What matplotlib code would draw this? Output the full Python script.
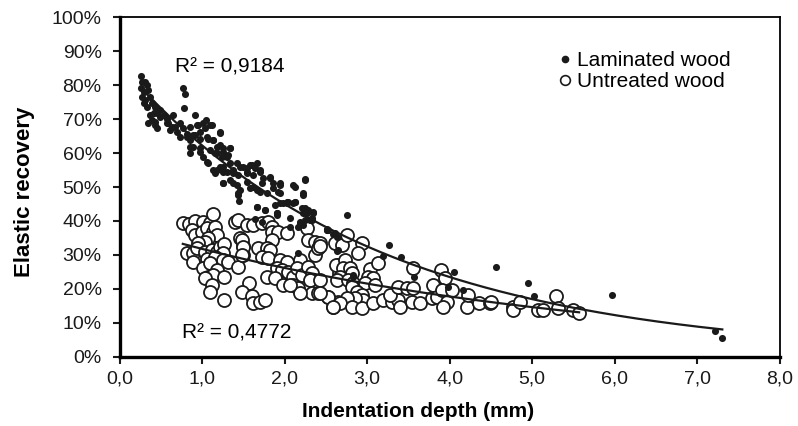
import numpy as np
import matplotlib
matplotlib.use("Agg")
import matplotlib.pyplot as plt
from matplotlib.ticker import FuncFormatter, MultipleLocator
from matplotlib.lines import Line2D

# laminated wood: indentation depth (mm), elastic recovery (%)
lam_x = [0.256, 0.268, 0.309, 0.329, 0.260, 0.289, 0.349, 0.268, 0.309, 0.369, 0.289, 0.329, 0.390, 0.430,
         0.490, 0.450, 0.369, 0.390, 0.430, 0.490, 0.531, 0.579, 0.652, 0.591, 0.612, 0.672, 0.733, 0.692,
         0.733, 0.773, 0.814, 0.854, 0.914, 0.955, 0.975, 1.048, 1.036, 1.116, 1.076, 1.136, 1.177, 1.217,
         1.258, 1.338, 1.298, 1.238, 1.157, 0.914, 0.894, 0.854, 0.975, 1.015, 1.076, 1.177, 1.258, 1.338,
         1.379, 1.459, 1.540, 1.600, 1.641, 1.701, 1.823, 2.247, 0.773, 0.793, 0.781,
         0.410, 0.430, 0.450, 0.349, 0.571, 0.632,
         0.854, 0.935, 1.015, 1.096, 1.217, 0.814, 0.894, 0.975, 1.056, 1.136, 1.217, 1.338, 0.854, 0.975,
         1.096, 1.177, 1.258, 1.318, 1.056, 1.136, 1.217, 1.298, 1.419, 1.500, 1.580, 1.661, 1.540, 1.439,
         1.338, 1.258, 1.379, 1.459, 1.439, 1.451, 1.580, 1.661, 1.742, 1.823, 1.863, 1.944, 1.924, 2.126,
         2.247, 2.226, 2.025, 2.126, 1.661, 1.762, 1.904, 2.247, 2.226, 2.348, 2.065, 2.247, 2.328, 2.166,
         2.509,
         1.157, 1.258, 1.379, 1.540, 1.621, 1.701, 1.258, 1.419, 1.540, 1.621, 1.722, 1.944, 2.105, 1.439,
         1.701, 1.782, 1.863, 1.944, 2.045, 2.227, 1.661, 1.762, 1.904, 1.944, 2.025, 2.126, 2.207, 2.267,
         2.348, 2.307, 2.186, 2.065, 2.509, 2.610, 2.650, 2.166, 1.722, 1.641,
         1.883, 1.984, 2.105, 2.287, 2.327, 2.186, 2.226, 1.904, 2.529, 2.630, 2.832,
         2.759, 2.517, 2.590, 2.638, 3.268, 3.196, 3.409, 3.567, 4.056, 4.560, 4.952, 5.024, 2.832, 3.983,
         4.165, 5.973, 7.212, 7.305]
lam_y = [82.7, 81.1, 81.1, 80.1, 79.2, 78.1, 78.6, 76.6, 75.7, 76.6, 74.7, 73.7, 74.7, 73.7,
         72.7, 71.7, 71.2, 69.8, 68.3, 70.7, 71.2, 70.2, 71.2, 68.8, 66.8, 67.8, 68.8, 66.3,
         64.8, 67.3, 65.7, 63.8, 65.3, 68.3, 66.3, 69.8, 67.3, 68.3, 64.3, 63.8, 61.9, 65.8,
         61.4, 61.4, 58.9, 58.9, 59.9, 71.2, 61.9, 59.9, 60.4, 58.9, 57.0, 55.0, 56.0, 57.0,
         55.0, 56.0, 55.5, 56.5, 55.5, 55.0, 53.1, 52.3, 79.1, 77.3, 73.2,
         71.7, 69.3, 67.3, 68.8, 68.8, 67.8,
         67.8, 68.3, 68.8, 68.3, 66.1, 64.8, 65.3, 64.3, 64.8, 63.9, 62.4, 61.4, 61.9, 61.4,
         60.9, 59.9, 60.4, 59.4, 57.5, 55.0, 56.0, 54.5, 57.0, 56.0, 56.5, 57.0, 54.0, 53.5,
         52.1, 51.1, 51.1, 49.1, 47.6, 46.0, 49.6, 49.1, 52.6, 52.6, 51.1, 51.1, 48.6, 50.1,
         52.1, 48.1, 45.7, 45.7, 44.0, 43.2, 42.2, 43.7, 42.2, 42.7, 40.8, 40.3, 40.3, 38.3,
         37.3,
         54.2, 54.5, 54.0, 54.5, 53.5, 54.5, 51.1, 50.6, 51.6, 50.1, 51.1, 50.6, 50.6, 48.1,
         48.6, 48.1, 49.6, 48.1, 45.6, 47.6, 44.2, 43.2, 42.2, 45.2, 45.2, 45.6, 43.7, 42.2,
         42.2, 40.3, 39.3, 38.3, 37.3, 36.3, 31.4, 30.4, 39.8, 40.5,
         44.7, 45.2, 45.4, 43.2, 40.8, 39.8, 38.8, 41.7, 37.3, 35.3, 23.5,
         41.7, 37.5, 36.1, 31.1, 32.9, 29.6, 29.4, 23.5, 25.0, 26.3, 21.6, 17.8, 24.0, 20.6,
         19.6, 18.1, 7.5, 5.5]

# untreated wood
unt_x = [0.765, 0.846, 0.914, 1.015, 1.096, 1.136, 0.874, 0.914, 0.995, 1.056, 1.136, 1.157, 1.177, 1.076,
         1.036, 0.955, 0.814, 0.894, 0.935, 1.036, 1.116, 1.177, 1.217, 1.270, 1.258, 1.056, 1.157, 1.258,
         1.318, 0.894, 1.015, 1.096, 1.177, 1.076, 1.136, 1.036, 1.265, 1.116, 1.096, 1.265, 1.439, 1.459,
         1.491, 1.500, 1.573, 1.479, 1.601, 1.621, 1.702, 1.762, 1.399, 1.439, 1.540, 1.621, 1.722, 1.803,
         1.843, 1.843, 1.924, 2.025, 1.843, 1.681, 1.782, 1.823, 1.722, 1.803, 1.944, 2.025, 1.904, 1.965,
         2.045, 1.782, 1.883, 2.105, 1.984, 2.105, 2.166, 2.186, 2.267, 2.287, 2.368, 2.368, 2.408, 2.146,
         2.207, 2.287, 2.328, 2.307, 2.328, 2.408, 2.529, 2.590, 2.650, 2.428, 2.650, 2.622, 2.663, 2.186,
         2.065, 1.480, 1.500, 1.480,
         2.428, 2.428, 2.610, 2.691, 2.751, 2.933, 2.893, 2.622, 2.731, 2.711, 2.792, 2.812, 2.671, 2.630,
         2.772, 2.832, 2.812, 3.034, 3.135, 3.014, 3.075, 2.974, 3.095, 2.873, 2.933, 2.954, 2.853, 2.751,
         2.529, 2.671, 2.590, 2.812, 2.933, 3.075, 3.196, 3.296, 3.377, 3.397, 3.276, 3.377, 3.478, 3.559,
         3.539, 3.640, 3.559, 3.801, 3.781, 3.842, 3.890, 3.942, 3.902, 3.963, 3.922, 4.023, 4.205, 4.225,
         4.357, 4.487, 4.507, 4.762, 4.770, 4.851, 5.073, 5.133, 5.283, 5.316, 5.497, 5.569, 2.428]
unt_y = [39.5, 39.1, 40.1, 39.8, 39.3, 41.9, 37.3, 35.8, 36.8, 37.8, 36.8, 38.3, 35.8, 34.9,
         33.9, 33.4, 30.4, 30.6, 31.9, 30.9, 31.4, 30.9, 32.4, 33.2, 30.4, 28.9, 29.4, 28.5,
         28.0, 28.0, 26.0, 27.5, 25.5, 23.5, 24.0, 23.1, 23.5, 21.1, 19.1, 16.7, 26.5, 34.9,
         32.6, 29.9, 21.6, 19.1, 17.9, 15.9, 16.2, 16.7, 39.8, 40.3, 38.8, 38.8, 39.3, 39.8,
         38.3, 36.8, 36.8, 36.3, 34.4, 31.9, 31.9, 31.4, 29.4, 29.0, 28.5, 28.0, 26.0, 25.5,
         25.0, 23.5, 23.1, 23.5, 21.1, 21.1, 20.1, 28.5, 37.8, 34.4, 33.9, 29.9, 31.9, 26.0,
         24.0, 26.5, 24.5, 22.6, 18.6, 18.6, 17.6, 14.7, 16.2, 22.6, 27.0, 33.4, 24.5, 18.6,
         21.1, 34.4, 32.4, 29.9,
         33.6, 32.6, 33.4, 32.9, 35.8, 33.6, 30.4, 27.0, 28.5, 26.0, 26.0, 24.5, 23.5, 22.6,
         22.6, 21.6, 20.6, 25.7, 27.5, 23.5, 23.1, 21.6, 21.1, 19.1, 18.1, 16.7, 17.2, 17.2,
         17.7, 15.7, 14.7, 14.7, 14.2, 15.7, 16.7, 16.2, 16.7, 14.7, 18.1, 20.6, 20.1, 20.1,
         16.2, 15.7, 26.0, 21.1, 17.2, 17.7, 25.5, 23.1, 19.6, 16.2, 14.7, 19.6, 14.7, 18.1,
         15.7, 15.7, 16.2, 14.7, 13.7, 16.2, 13.7, 13.7, 17.8, 14.2, 13.7, 12.9, 18.6]

x_ticks = [0, 1, 2, 3, 4, 5, 6, 7, 8]
ink = "#1a1a1a"
sans = ["Liberation Sans", "DejaVu Sans"]


def exp_trend(x, y):
    # exponential trendline like Excel: ln(y) = ln(a) + b*x
    x = np.array(x)
    b, ln_a = np.polyfit(x, np.log(np.array(y)), 1)
    xs = np.linspace(x.min(), x.max(), 200)
    return xs, np.exp(ln_a) * np.exp(b * xs)


fig = plt.figure(figsize=(7.98, 4.26), dpi=100)
ax = fig.add_axes([0.150, 0.163, 0.827, 0.796])

ax.scatter(unt_x, unt_y, s=88, facecolors="white", edgecolors=ink, linewidths=1.3, zorder=2)
ax.scatter(lam_x, lam_y, s=26, color=ink, linewidths=0, zorder=3)

tx, ty = exp_trend(lam_x, lam_y)
ax.plot(tx, ty, color=ink, lw=1.6, zorder=4)
tx, ty = exp_trend(unt_x, unt_y)
ax.plot(tx, ty, color=ink, lw=1.6, zorder=4)

ax.set_xlim(0, 8)
ax.set_ylim(0, 100)
ax.set_xticks(x_ticks)
ax.xaxis.set_major_formatter(FuncFormatter(lambda v, p: f"{v:.1f}".replace(".", ",")))
ax.yaxis.set_major_locator(MultipleLocator(10))
ax.yaxis.set_major_formatter(FuncFormatter(lambda v, p: f"{int(round(v))}%"))

for lab in ax.get_xticklabels() + ax.get_yticklabels():
    lab.set_family(sans)
    lab.set_fontsize(14)

ax.tick_params(axis="y", direction="out", length=5, width=1.5, colors=ink, pad=8)
ax.tick_params(axis="x", direction="out", length=5, width=1.5, colors=ink, pad=5)
for side in ["left", "bottom"]:
    ax.spines[side].set_linewidth(2.4)
for side in ["top", "right"]:
    ax.spines[side].set_linewidth(1.3)

ax.set_xlabel("Indentation depth (mm)", family=sans, fontsize=15, fontweight="bold")
ax.xaxis.set_label_coords(0.452, -0.135)
ax.set_ylabel("Elastic recovery", family=sans, fontsize=16, fontweight="bold")
ax.yaxis.set_label_coords(-0.128, 0.485)

ax.text(0.67, 85.4, "R² = 0,9184", family=sans, fontsize=15, va="center")
ax.text(0.75, 6.9, "R² = 0,4772", family=sans, fontsize=15, va="center")

handles = [Line2D([], [], ls="none", marker="o", ms=4.5, color=ink),
           Line2D([], [], ls="none", marker="o", ms=7, mfc="white", mec=ink, mew=1.2)]
ax.legend(handles, ["Laminated wood", "Untreated wood"], loc="upper left",
          bbox_to_anchor=(0.645, 0.925), frameon=False, prop={"family": sans, "size": 15},
          handletextpad=0.0, handlelength=1.1, labelspacing=0.1, borderaxespad=0)

fig.savefig("out.png", dpi=100)
